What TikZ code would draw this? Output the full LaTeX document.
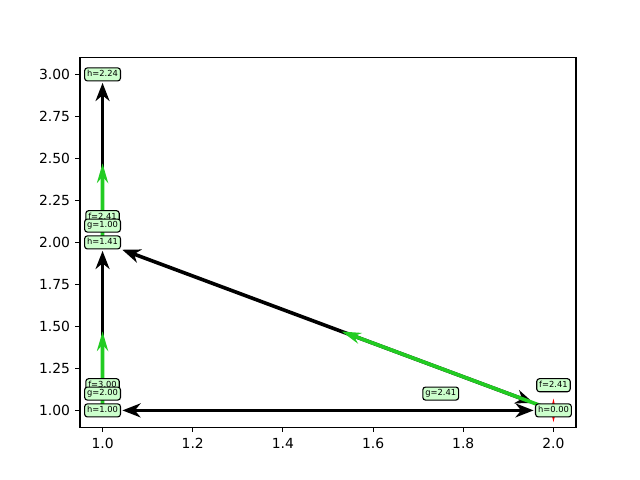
\documentclass[tikz,border=0pt]{standalone}
\usepackage{fontspec}
\setmainfont{DejaVu Sans}
\usetikzlibrary{arrows.meta,calc}
\pgfdeclarelayer{bg}
\pgfsetlayers{bg,main}
\definecolor{lblfill}{RGB}{204,255,204}
\definecolor{pathgreen}{RGB}{34,204,34}
\begin{document}
\begin{tikzpicture}[
  lbl/.style={draw=black, line width=0.8pt, rounded corners=2pt, fill=lblfill,
    font=\fontsize{6}{7}\selectfont, inner xsep=1.8pt, inner ysep=1.8pt,
    text height=4.6pt, text depth=1.2pt},
  blk/.style={draw=black, line width=2.6pt, shorten >=1pt, shorten <=1pt,
    -{Stealth[length=13pt,width=10pt,inset=4pt]}},
  blkboth/.style={draw=black, line width=2.6pt, shorten >=1pt, shorten <=1pt,
    {Stealth[length=13pt,width=10pt,inset=4pt]}-{Stealth[length=13pt,width=10pt,inset=4pt]}},
  grn/.style={draw=pathgreen, line width=2.6pt,
    -{Stealth[length=14pt,width=8pt,inset=4.5pt]}},
  tickmark/.style={line width=0.8pt},
  ticklbl/.style={font=\fontsize{10}{12}\selectfont, inner sep=0pt,
    text height=7.3pt, text depth=0pt}
]
\useasboundingbox (0,0) rectangle (460.8pt,345.6pt);
\begin{scope}[x=324.654pt, y=120.96pt, shift={(-250.82pt,-70.848pt)}]
  % axes frame
  \draw[line width=0.8pt] (0.95,0.9) rectangle (2.05,3.1);
  % x ticks
  \foreach \v/\t in {1/1.0,1.2/1.2,1.4/1.4,1.6/1.6,1.8/1.8,2/2.0}{
    \draw[tickmark] (\v,0.9) -- ++(0,-3.5pt);
    \node[ticklbl] at ($(\v,0.9)+(0,-11.4pt)$) {\t};
  }
  % y ticks
  \foreach \v/\t in {1/1.00,1.25/1.25,1.5/1.50,1.75/1.75,2/2.00,2.25/2.25,2.5/2.50,2.75/2.75,3/3.00}{
    \draw[tickmark] (0.95,\v) -- ++(-3.5pt,0);
    \node[ticklbl, anchor=east] at ($(0.95,\v)+(-7pt,0)$) {\t};
  }
  % grid points
  \coordinate (n11) at (1,1);
  \coordinate (n12) at (1,2);
  \coordinate (n13) at (1,3);
  \coordinate (n21) at (2,1);
  % labels
  \node[lbl] (f12) at (1,2.15) {f=2.41};
  \node[lbl] (g12) at (1,2.10) {g=1.00};
  \node[lbl] (h12) at (n12) {h=1.41};
  \node[lbl] (f11) at (1,1.15) {f=3.00};
  \node[lbl] (g11) at (1,1.10) {g=2.00};
  \node[lbl] (h11) at (n11) {h=1.00};
  \node[lbl] (h13) at (n13) {h=2.24};
  \node[lbl] (f21) at (2,1.15) {f=2.41};
  \node[lbl] (g21) at (1.75,1.10) {g=2.41};
  \node[lbl] (h21) at (n21) {h=0.00};
  \begin{pgfonlayer}{bg}
    % explored edges
    \draw[blk] (h11) -- (h12);
    \draw[blk] (h12) -- (h13);
    \draw[blkboth] (h11) -- (h21);
    \draw[blkboth] (h12) -- (h21);
    % path arrows
    \draw[grn] (n11) -- ($(n11)!0.47!(n12)$);
    \draw[grn] (n12) -- ($(n12)!0.47!(n13)$);
    \draw[grn] (n21) -- ($(n21)!0.47!(n12)$);
    % goal marker
    \fill[red] (n21) ++(0,8.5pt) -- ++(2pt,-8.5pt) -- ++(-2pt,-8.5pt) -- ++(-2pt,8.5pt) -- cycle;
  \end{pgfonlayer}
\end{scope}
\end{tikzpicture}
\end{document}
